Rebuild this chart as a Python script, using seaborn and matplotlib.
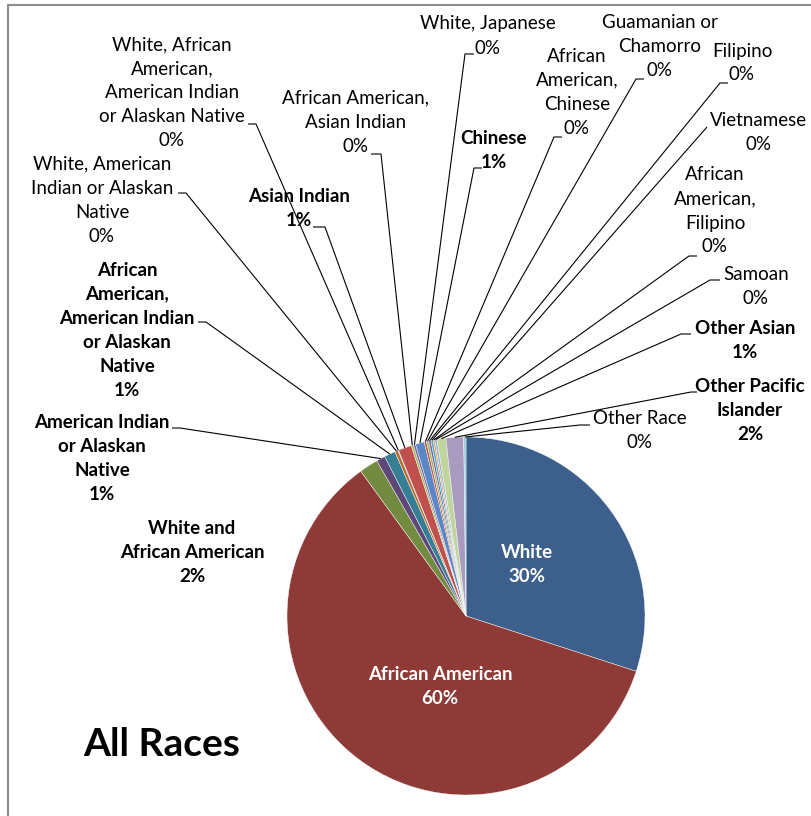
import numpy as np
import matplotlib
matplotlib.use("Agg")
import matplotlib.pyplot as plt
import seaborn as sns

# ---- data -------------------------------------------------------------
categories = [
    "White", "African American", "White and African American",
    "American Indian or Alaskan Native",
    "African American, American Indian or Alaskan Native",
    "White, American Indian or Alaskan Native",
    "White, African American, American Indian or Alaskan Native",
    "Asian Indian", "African American, Asian Indian", "White, Japanese",
    "Chinese", "African American, Chinese", "Guamanian or Chamorro",
    "Filipino", "Vietnamese", "African American, Filipino", "Samoan",
    "Other Asian", "Other Pacific Islander", "Other Race",
]
shares = [30.0, 60.0, 1.7, 0.8, 1.0, 0.3, 0.05, 1.2, 0.2, 0.2,
          0.8, 0.2, 0.2, 0.2, 0.2, 0.15, 0.2, 0.8, 1.6, 0.2]

# label text as wrapped on the chart
wrapped_names = [
    "White", "African American", "White and\nAfrican American",
    "American Indian\nor Alaskan\nNative",
    "African\nAmerican,\nAmerican Indian\nor Alaskan\nNative",
    "White, American\nIndian or Alaskan\nNative",
    "White, African\nAmerican,\nAmerican Indian\nor Alaskan Native",
    "Asian Indian", "African American,\nAsian Indian", "White, Japanese",
    "Chinese", "African\nAmerican,\nChinese", "Guamanian or\nChamorro",
    "Filipino", "Vietnamese", "African\nAmerican,\nFilipino", "Samoan",
    "Other Asian", "Other Pacific\nIslander", "Other Race",
]

slice_colors = [
    "#3c5f8c", "#8e3b38", "#738b40", "#5d4878", "#357e93", "#b76e2e",
    "#4f81bd", "#c0504d", "#9bbb59", "#8064a2", "#5a87c6", "#c0504d",
    "#9bbb59", "#8064a2", "#4bacc6", "#f79646", "#95b3d7", "#bfd59c",
    "#a99bc0", "#93cddd",
]

# ---- layout (pixel positions, origin top-left) -----------------------
W, H = 812, 816
pie_center = (466, 616)
pie_radius = 179

label_pos = [
    (527, 565), (440, 686), (192, 552), (102, 459), (127, 330),
    (102, 200), (172, 93), (299, 209), (356, 122), (488, 36),
    (494, 150), (577, 92), (660, 46), (742, 63), (759, 133),
    (715, 211), (756, 286), (745, 341), (750, 410), (640, 431),
]
# elbow of each leader line and the length/direction of its short tick
leader_elbow = [
    None, None, None, (180, 428), (206, 322), (186, 193), (256, 124),
    (325, 227), (381, 154), (465, 54), (474, 168), (554, 137),
    (636, 79), (720, 83), (707, 127), (689, 256), (710, 280),
    (681, 334), (691, 392), (580, 425),
]
leader_tick = [
    0, 0, 0, -8, -8, -8, -8, -12, -10, 9, 8, 8, 8, 8, 0, 8, 10,
    10, 6, 10,
]


def px(x, y):
    return x, H - y


sns.set_theme(style="white")
plt.rcParams["font.family"] = ["Lato", "DejaVu Sans"]

fig = plt.figure(figsize=(W / 100, H / 100), dpi=100)
ax = fig.add_axes([0, 0, 1, 1])

wedges, _ = ax.pie(
    shares, colors=slice_colors, startangle=90, counterclock=False,
    center=px(*pie_center), radius=pie_radius,
    wedgeprops=dict(edgecolor="white", linewidth=0.3),
)
ax.set_xlim(0, W)
ax.set_ylim(0, H)
ax.set_aspect("equal")
ax.axis("off")

total = sum(shares)
for i, (name, wedge) in enumerate(zip(wrapped_names, wedges)):
    pct = round(100 * shares[i] / total)
    ax.text(*px(*label_pos[i]), f"{name}\n{pct}%", ha="center", va="center",
            fontsize=13.5, linespacing=1.5,
            fontweight="bold" if pct >= 1 else "normal",
            color="white" if i < 2 else "black")
    if leader_elbow[i] is not None:
        mid = np.deg2rad((wedge.theta1 + wedge.theta2) / 2)
        cx, cy = wedge.center
        sx = cx + wedge.r * np.cos(mid)
        sy = cy + wedge.r * np.sin(mid)
        ex, ey = px(*leader_elbow[i])
        ax.plot([ex + leader_tick[i], ex, sx], [ey, ey, sy],
                color="black", lw=0.8, solid_capstyle="butt")

ax.text(*px(162, 745), "All Races", ha="center", va="center",
        fontsize=28, fontweight="bold", color="black")

# chart-area border (top and left edges)
ax.plot([8, 8], [0, H - 5], color="#8c8c8c", lw=1.5, clip_on=False)
ax.plot([8, W], [H - 5, H - 5], color="#8c8c8c", lw=1.5, clip_on=False)

fig.savefig("out.png", dpi=100)
